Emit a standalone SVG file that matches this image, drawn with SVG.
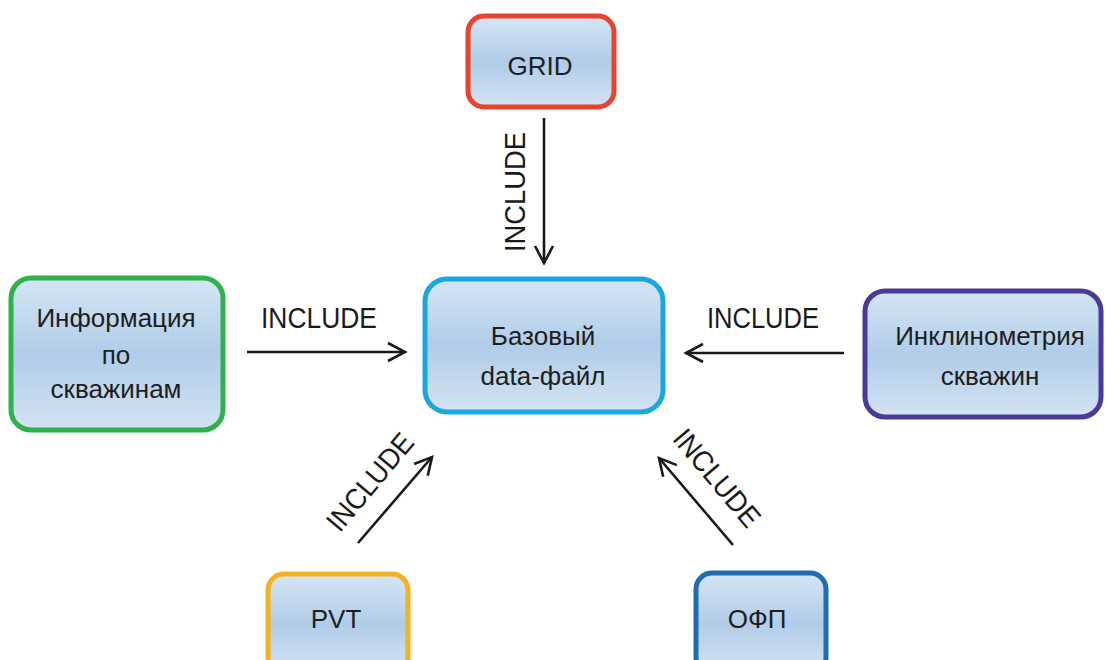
<svg xmlns="http://www.w3.org/2000/svg" width="1107" height="660" viewBox="0 0 1107 660">
<defs>
<linearGradient id="fill" x1="0" y1="0" x2="0" y2="1">
<stop offset="0" stop-color="#d6e6f4"/>
<stop offset="0.5" stop-color="#b0cce8"/>
<stop offset="1" stop-color="#d3e3f2"/>
</linearGradient>
<marker id="arr" markerUnits="userSpaceOnUse" markerWidth="24" markerHeight="24" viewBox="0 0 24 24" refX="20" refY="12" orient="auto">
<path d="M3,3 L20,12 L3,21" fill="none" stroke="#1a1a1a" stroke-width="2.6" stroke-linejoin="miter"/>
</marker>
</defs>
<style>
.box{fill:url(#fill);stroke-width:5}
.t{font-family:"Liberation Sans",Arial,sans-serif;font-size:26px;fill:#1e1e1e;text-anchor:middle}
.lbl{font-family:"Liberation Sans",Arial,sans-serif;font-size:29px;fill:#1a1a1a;text-anchor:middle}
.c{stroke:#1a1a1a;stroke-width:2.6;fill:none;marker-end:url(#arr)}
</style>
<rect width="1107" height="660" fill="#fff"/>
<g id="grid">
<rect class="box" x="468" y="16" width="146" height="91" rx="16" stroke="#e8432f"/>
<text class="t" x="540" y="75">GRID</text>
</g>
<g id="base">
<rect class="box" x="425" y="279" width="238" height="133" rx="22" stroke="#1aa6df"/>
<text class="t" x="543" y="345">Базовый</text>
<text class="t" x="543" y="385">data-файл</text>
</g>
<g id="wells">
<rect class="box" x="11" y="278" width="212" height="152" rx="20" stroke="#2fb14c"/>
<text class="t" x="116" y="327">Информация</text>
<text class="t" x="116" y="364">по</text>
<text class="t" x="116" y="398">скважинам</text>
</g>
<g id="incl">
<rect class="box" x="865" y="291" width="236" height="126" rx="20" stroke="#4a3a9a"/>
<text class="t" x="990" y="345">Инклинометрия</text>
<text class="t" x="990" y="385">скважин</text>
</g>
<g id="pvt">
<rect class="box" x="268" y="574" width="140" height="100" rx="16" stroke="#f4b223"/>
<text class="t" x="336" y="628">PVT</text>
</g>
<g id="ofp">
<rect class="box" x="696" y="573" width="130" height="100" rx="16" stroke="#1e6db1"/>
<text class="t" x="757" y="628">ОФП</text>
</g>
<g id="connectors">
<line class="c" x1="544" y1="118" x2="544" y2="263"/>
<text class="lbl" transform="translate(515,192) rotate(-90)" y="10" textLength="120" lengthAdjust="spacingAndGlyphs">INCLUDE</text>
<line class="c" x1="247" y1="352" x2="405" y2="352"/>
<text class="lbl" x="319" y="328" textLength="116" lengthAdjust="spacingAndGlyphs">INCLUDE</text>
<line class="c" x1="844" y1="353" x2="686" y2="353"/>
<text class="lbl" x="763" y="328" textLength="112" lengthAdjust="spacingAndGlyphs">INCLUDE</text>
<line class="c" x1="358" y1="543" x2="432" y2="457"/>
<text class="lbl" transform="translate(370,482) rotate(-50)" y="10" textLength="118" lengthAdjust="spacingAndGlyphs">INCLUDE</text>
<line class="c" x1="733" y1="545" x2="659" y2="458"/>
<text class="lbl" transform="translate(717,478) rotate(50)" y="10" textLength="118" lengthAdjust="spacingAndGlyphs">INCLUDE</text>
</g>
</svg>
